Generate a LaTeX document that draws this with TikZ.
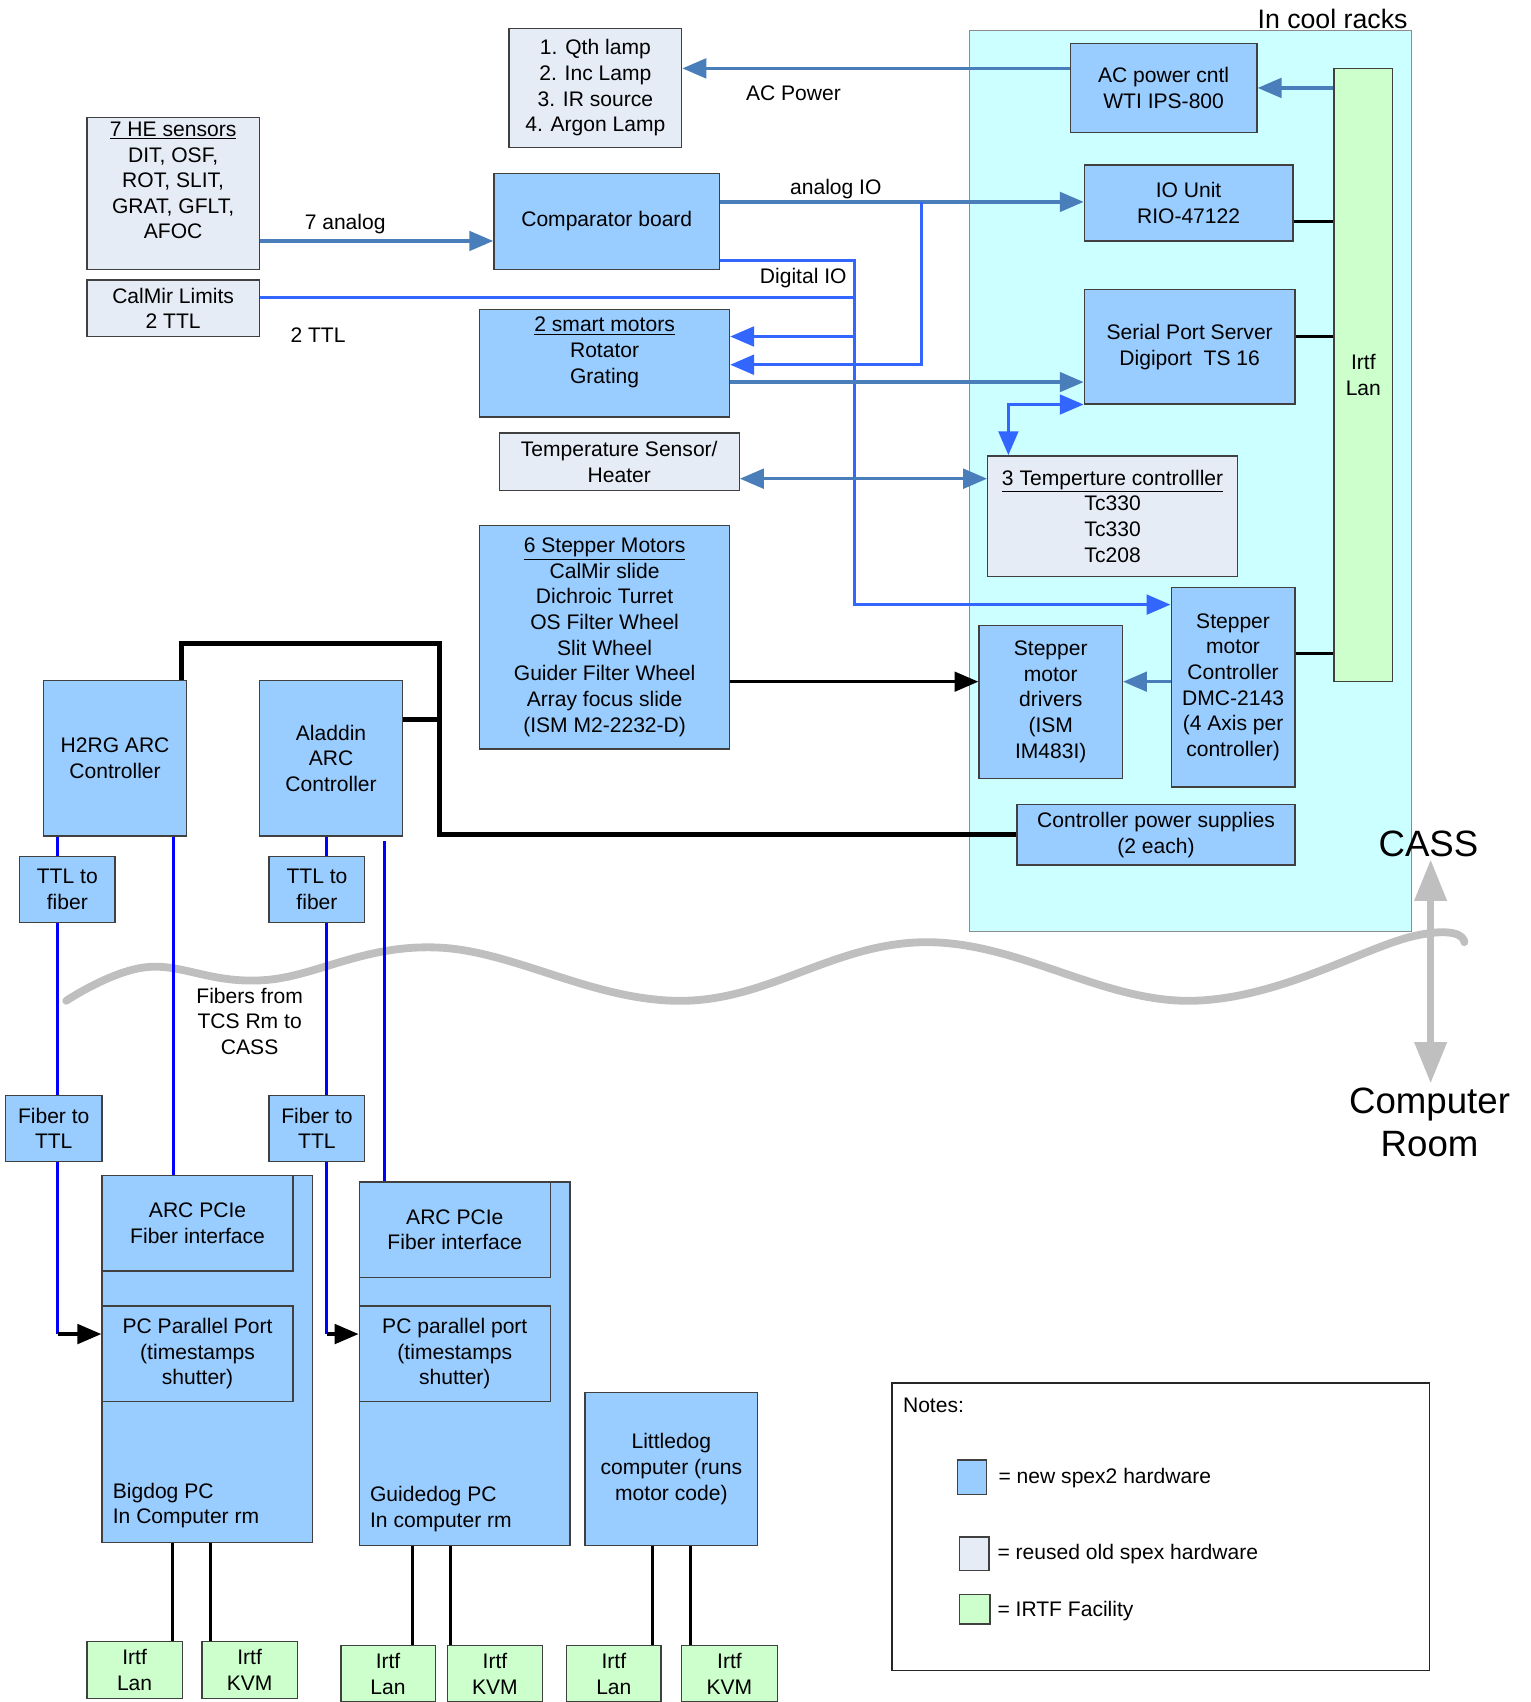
\documentclass[tikz,border=0pt]{standalone}
\usepackage{fontspec}
\setmainfont{Liberation Sans}
\usetikzlibrary{arrows.meta}

\definecolor{newhw}{HTML}{99CCFF}
\definecolor{oldhw}{HTML}{E6ECF6}
\definecolor{irtf}{HTML}{CCFFCC}
\definecolor{coolrack}{HTML}{CCFFFF}
\definecolor{steel}{HTML}{4A7EBB}
\definecolor{bright}{HTML}{3366FF}
\definecolor{fiber}{HTML}{0000FF}
\definecolor{wavegray}{HTML}{BFBFBF}

\tikzset{
  hw/.style={draw=black!75, line width=0.9pt, fill=newhw, align=center, inner sep=2pt},
  oldbox/.style={hw, fill=oldhw},
  lanbox/.style={hw, fill=irtf},
  sline/.style={steel, line width=2.2pt},
  bline/.style={bright, line width=2.2pt},
  fline/.style={fiber, line width=1.7pt},
  kline/.style={black, line width=2.2pt},
  bigfont/.style={font=\fontsize{24}{28.5}\selectfont}
}

\begin{document}
\begin{tikzpicture}[x=0.025cm, y=-0.025cm, font=\fontsize{13.8}{16.8}\selectfont,
  >={Triangle[length=0.55cm,width=0.45cm]}]
\useasboundingbox (0,0) rectangle (1410,1568);

% cool racks
\node[draw=black!45, line width=0.8pt, fill=coolrack, minimum width=10.175cm, minimum height=20.75cm] (rack) at (1096.5,443) {};
\node[anchor=base east, inner sep=0pt, font=\fontsize{17.5}{20}\selectfont] (racklbl) at (1297,26) {In cool racks};

% wave between CASS and computer room
\draw[wavegray, line width=0.18cm, line cap=round] plot[smooth, tension=0.65] coordinates {(61,922) (135,891) (243,903) (405,873) (629,922) (854,868) (1097,922) (1304,862) (1349,868)};

% boxes
\node[lanbox, minimum width=1.35cm, minimum height=14.125cm] (lanbar) at (1256,345.5) {Irtf\\Lan};
\node[oldbox, minimum width=3.975cm, minimum height=2.75cm] (lamps) at (548.5,81) {1. Qth lamp\\2. Inc Lamp\\3. IR source\\4. Argon Lamp};
\node[hw, minimum width=4.3cm, minimum height=2.05cm] (acp) at (1072,81) {AC power cntl\\WTI IPS-800};
\node[oldbox, minimum width=3.975cm, minimum height=3.5cm] (he) at (159.5,178) {\underline{7 HE sensors}\\DIT, OSF,\\ROT, SLIT,\\GRAT, GFLT,\\AFOC\\~};
\node[oldbox, minimum width=3.975cm, minimum height=1.3cm] (calmir) at (159.5,284) {CalMir Limits\\2 TTL};
\node[hw, minimum width=5.2cm, minimum height=2.2cm] (comp) at (559,204) {Comparator board};
\node[hw, minimum width=4.8cm, minimum height=1.75cm] (iou) at (1095,187) {IO Unit\\RIO-47122};
\node[hw, minimum width=4.85cm, minimum height=2.625cm] (sps) at (1096,319.5) {Serial Port Server\\Digiport~~TS 16};
\node[hw, minimum width=5.75cm, minimum height=2.475cm] (smart) at (557,334.5) {\underline{2 smart motors}\\Rotator\\Grating\\~};
\node[oldbox, minimum width=5.525cm, minimum height=1.325cm] (temps) at (570.5,425.5) {Temperature Sensor/\\Heater};
\node[oldbox, minimum width=5.75cm, minimum height=2.775cm] (tctl) at (1025,475.5) {\underline{3 Temperture controlller}\\Tc330\\Tc330\\Tc208};
\node[hw, minimum width=5.75cm, minimum height=5.15cm] (stepm) at (557,587) {\underline{6 Stepper Motors}\\CalMir slide\\Dichroic Turret\\OS Filter Wheel\\Slit Wheel\\Guider Filter Wheel\\Array focus slide\\(ISM M2-2232-D)};
\node[hw, minimum width=3.3cm, minimum height=3.525cm] (drv) at (968,646.5) {Stepper\\motor\\drivers\\(ISM\\IM483I)};
\node[hw, minimum width=2.85cm, minimum height=4.6cm] (smc) at (1136,633) {Stepper\\motor\\Controller\\DMC-2143\\(4 Axis per\\controller)};
\node[hw, minimum width=6.4cm, minimum height=1.4cm] (cps) at (1065,769) {Controller power supplies\\(2 each)};

\node[hw, minimum width=3.3cm, minimum height=3.575cm] (h2rg) at (106,698.5) {H2RG ARC\\Controller};
\node[hw, minimum width=3.3cm, minimum height=3.575cm] (ala) at (305,698.5) {Aladdin\\ARC\\Controller};
\node[hw, minimum width=2.2cm, minimum height=1.525cm] (ttla) at (62,819.5) {TTL to\\fiber};
\node[hw, minimum width=2.2cm, minimum height=1.525cm] (ttlb) at (292,819.5) {TTL to\\fiber};
\node[hw, minimum width=2.225cm, minimum height=1.525cm] (ftta) at (49.5,1039.5) {Fiber to\\TTL};
\node[hw, minimum width=2.2cm, minimum height=1.525cm] (fttb) at (292,1039.5) {Fiber to\\TTL};

\node[hw, minimum width=4.85cm, minimum height=8.45cm] (bigdog) at (191,1252) {};
\node[hw, minimum width=4.4cm, minimum height=2.2cm] (pciea) at (182,1127) {ARC PCIe\\Fiber interface};
\node[hw, minimum width=4.4cm, minimum height=2.2cm] (ppa) at (182,1247) {PC Parallel Port\\(timestamps\\shutter)};
\node[anchor=west, align=left] (bigdoglbl) at (99,1387) {Bigdog PC\\In Computer rm};

\node[hw, minimum width=4.85cm, minimum height=8.375cm] (guidedog) at (428,1256.5) {};
\node[hw, minimum width=4.4cm, minimum height=2.2cm] (pcieb) at (419,1133) {ARC PCIe\\Fiber interface};
\node[hw, minimum width=4.4cm, minimum height=2.2cm] (ppb) at (419,1247) {PC parallel port\\(timestamps\\shutter)};
\node[anchor=west, align=left] (guidedoglbl) at (336,1390) {Guidedog PC\\In computer rm};

\node[hw, minimum width=3.975cm, minimum height=3.525cm] (little) at (618.5,1353.5) {Littledog\\computer (runs\\motor code)};

\node[lanbox, minimum width=2.2cm, minimum height=1.325cm] (lana) at (124,1538.5) {Irtf\\Lan};
\node[lanbox, minimum width=2.2cm, minimum height=1.325cm] (kvma) at (230,1538.5) {Irtf\\KVM};
\node[lanbox, minimum width=2.175cm, minimum height=1.3cm] (lanb) at (357.5,1542) {Irtf\\Lan};
\node[lanbox, minimum width=2.2cm, minimum height=1.3cm] (kvmb) at (456,1542) {Irtf\\KVM};
\node[lanbox, minimum width=2.175cm, minimum height=1.3cm] (lanc) at (565.5,1542) {Irtf\\Lan};
\node[lanbox, minimum width=2.2cm, minimum height=1.3cm] (kvmc) at (672,1542) {Irtf\\KVM};

% labels
\node (acplbl) at (731,86) {AC Power};
\node (anlbl) at (318,206) {7 analog};
\node (ttllbl) at (293,309) {2 TTL};
\node (aiolbl) at (770,174) {analog IO};
\node (diolbl) at (740,256) {Digital IO};
\node[align=center] (fibrelbl) at (230,941) {Fibers from\\TCS Rm to\\CASS};
\node[bigfont] (cass) at (1316,777) {CASS};
\node[bigfont, align=center] (room) at (1317,1034) {Computer\\Room};

% turning points
\coordinate (aio) at (849,186);
\coordinate (dio) at (787,240);
\coordinate (dioend) at (787,557);
\coordinate (trunk) at (405,593);

% signal lines
\draw[sline,->] (acp.west |- 0,63) -- (lamps.east |- 0,63);
\draw[sline,->] (lanbar.west |- acp.east) -- (acp.east);
\draw[sline,->] (he.east |- 0,222) -- (comp.west |- 0,222);
\draw[sline,->] (comp.east |- aio) -- (iou.west |- aio);
\draw[bline,->] (aio) -- (aio |- 0,336) -- (smart.east |- 0,336);
\draw[bline] (calmir.east |- 0,274) -- (dio |- 0,274);
\draw[bline,->] (comp.east |- dio) -- (dio) -- (dioend) -- (smc.west |- dioend);
\draw[bline,->] (dio |- 0,310) -- (smart.east |- 0,310);
\draw[sline,->] (smart.east |- 0,352) -- (sps.west |- 0,352);
\draw[sline,<->] (temps.east |- 0,441) -- (tctl.west |- 0,441);
\draw[bline,<->] (sps.south west) -| (tctl.north -| 929,0);
\draw[kline,->] (stepm.east |- 0,628) -- (drv.west |- 0,628);
\draw[sline,->] (smc.west |- 0,628) -- (drv.east |- 0,628);
\draw[kline] (iou.east |- 0,204) -- (lanbar.west |- 0,204);
\draw[kline] (sps.east |- 0,310) -- (lanbar.west |- 0,310);
\draw[kline] (smc.east |- 0,602) -- (lanbar.west |- 0,602);

% controller power
\draw[black, line width=3.6pt] (h2rg.north -| 167,0) -- (167,593) -- (trunk) -- (trunk |- cps.west) -- (cps.west);
\draw[black, line width=3.6pt] (ala.east |- 0,663) -- (trunk |- 0,663);

% fibers
\draw[fline] (h2rg.south -| 53,0) -- (ttla.north -| 53,0);
\draw[fline] (ttla.south -| 53,0) -- (ftta.north -| 53,0);
\draw[fline] (ftta.south -| 53,0) -- (53,1229);
\draw[kline,->] (53,1229) -- (ppa.west |- 0,1229);
\draw[fline] (h2rg.south -| 160,0) -- (pciea.north -| 160,0);
\draw[fline] (ala.south -| 301,0) -- (ttlb.north -| 301,0);
\draw[fline] (ttlb.south -| 301,0) -- (fttb.north -| 301,0);
\draw[fline] (fttb.south -| 301,0) -- (301,1229);
\draw[kline,->] (301,1229) -- (ppb.west |- 0,1229);
\draw[fline] (354,775) -- (pcieb.north -| 354,0);

% computer room lan and kvm
\draw[kline] (bigdog.south -| 159,0) -- (lana.north -| 159,0);
\draw[kline] (bigdog.south -| 194,0) -- (kvma.north -| 194,0);
\draw[kline] (guidedog.south -| 380,0) -- (lanb.north -| 380,0);
\draw[kline] (guidedog.south -| 415,0) -- (kvmb.north -| 415,0);
\draw[kline] (little.south -| 601,0) -- (lanc.north -| 601,0);
\draw[kline] (little.south -| 636,0) -- (kvmc.north -| 636,0);

% CASS / computer room
\draw[wavegray, line width=0.15cm, {Triangle[length=0.95cm,width=0.72cm]}-{Triangle[length=0.95cm,width=0.72cm]}] (1318,792) -- (1318,998);

% notes
\node[draw=black!85, line width=1pt, minimum width=12.375cm, minimum height=6.625cm] (notes) at (1069.5,1406.5) {};
\node[anchor=west] (noteslbl) at (827,1295) {Notes:};
\node[hw, minimum width=0.675cm, minimum height=0.8cm] (keynew) at (895.5,1361) {};
\node[oldbox, minimum width=0.675cm, minimum height=0.775cm] (keyold) at (897.5,1431.5) {};
\node[lanbox, minimum width=0.7cm, minimum height=0.675cm] (keyirtf) at (898,1482.5) {};
\node[anchor=west] (keynewlbl) at (915,1362) {= new spex2 hardware};
\node[anchor=west] (keyoldlbl) at (914,1432) {= reused old spex hardware};
\node[anchor=west] (keyirtflbl) at (914,1484) {= IRTF Facility};
\end{tikzpicture}
\end{document}
